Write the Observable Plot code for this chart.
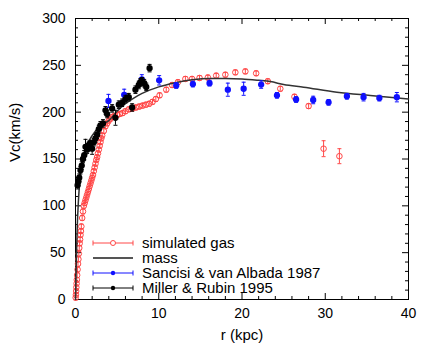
<!DOCTYPE html>
<html><head><meta charset="utf-8">
<script src="https://cdn.jsdelivr.net/npm/d3@7"></script>
<script src="https://cdn.jsdelivr.net/npm/@observablehq/plot@0.6"></script>
<style>body{margin:0;background:#fff} svg{font-family:"Liberation Sans",Arial,sans-serif}</style>
</head><body><div id="chart"></div>
<script>
// ---- data ----
const gasR = [0.02,0.05,0.08,0.1,0.13,0.16,0.2,0.25,0.3,0.35,
  0.4,0.45,0.5,0.55,0.6,0.65,0.7,0.8,0.9,1.0,
  1.1,1.2,1.3,1.4,1.5,1.6,1.7,1.8,1.9,2.0,
  2.1,2.2,2.3,2.4,2.5,2.6,2.7,2.8,2.9,3.0,
  3.1,3.2,3.4,3.6,3.8,4.0,4.2,4.45,4.7,5.0,
  5.3,5.65,6.0,6.4,6.85,7.25,7.65,8.05,8.45,8.85,
  9.25,9.65,10.1,10.9,11.6,12.3,13.2,14.0,14.9,15.9,
  16.9,18.0,19.2,20.4,21.7,23.1,24.6,26.3,28.0,29.8,
  31.7];
const gasV = [2,5,9,13,17,21,26,32,38,43,
  49,55,60,64,69,73,78,87,94,100,
  103,106,109,112,115,118,121,124,127,130,
  133,137,141,145,149,152,156,160,164,168,
  172,175,180,185,188,191,193,195,196,197,
  198,199,201,203,204,205,206,207,208,209,
  211,214,218,224,229,232,235.5,235.5,236.5,237,
  239,240,242.5,243.5,241.5,233,225,216.5,206.5,161,
  153];
const gasErr = [2.5,2.5,2.5,2.5,2.5,2.5,2.5,2.5,2.5,2.5,
  2.5,2.5,2.5,2.5,2.5,2.5,2.5,2.5,2.5,2.5,
  2.5,2.5,2.5,2.5,2.5,2.5,2.5,2.5,2.5,2.5,
  2.5,2.5,2.5,2.5,2.5,2.5,2.5,2.5,2.5,2.5,
  2.5,2.5,2.5,2.5,2.5,2.5,2.5,2.5,2.5,2.5,
  2.5,2.5,2.5,2.5,2.5,2.5,2.5,2.5,2.5,2.5,
  2.5,2.5,2.5,2.5,2.5,2.5,2.5,2.5,2.5,2.5,
  2.5,2.5,2.5,2.5,2.5,2.5,2.5,2.5,2.5,8.5,
  8];

const massR = [0,0.1,0.2,0.35,0.5,0.75,1,1.5,2,3,4,5,6,7,8,10,12,14,16,18,20,22,23.4,25,27.4,31.4,35.4,40];
const massV = [0,40,75,105,125,145,155,167,175,186,191,201,209,215,220,227,231.5,234.5,236,236,235.5,234,232.7,229.5,226.6,221.3,217.8,214];

const sancisiR = [3.96,5.85,7.97,10.05,12.1,14.1,16.1,18.3,20.2,22.3,24.2,26.5,28.55,30.4,32.6,34.6,36.5,38.6];
const sancisiV = [212,218.5,235,234,228.5,230,231,224,225,229.5,218,213.5,213,210.5,217,216,215,216];
const sancisiErr = [7,6,5,5,3,3,3,7,7,4,3,3,4,3,3,4,3,5];

const millerR = [0.25,0.35,0.45,0.6,0.75,0.9,1.05,1.2,1.4,1.6,
  1.8,2.0,2.2,2.4,2.6,2.8,3.0,3.3,3.6,3.8,
  4.4,4.8,5.2,5.6,6.0,6.4,6.8,7.2,7.6,7.8,
  8.0,8.25,8.5,8.9];
const millerV = [122,126,130,138,143,150,154,163,160,165,
  166,161,168,172,176,182,186,188,202,198,
  204,194,208,210,214,216,205,224,229,232,
  233,231,227,247];
const millerErr = [4,4,4,4,4,4,5,8,4,4,
  4,6,4,4,4,4,4,4,4,4,
  4,8,4,4,4,4,4,4,4,4,
  4,4,4,4];

const xMajor = [0,10,20,30,40];
const xMinor = [2,4,6,8,12,14,16,18,22,24,26,28,32,34,36,38];
const yMajor = [0,50,100,150,200,250,300];
const yMinor = [10,20,30,40,60,70,80,90,110,120,130,140,160,170,180,190,210,220,230,240,260,270,280,290];

const legendLabels = ["simulated gas","mass","Sancisi & van Albada 1987","Miller & Rubin 1995"];
const xLabel = "r (kpc)";
const yLabel = "Vc(km/s)";

// ---- build ----
const W = 436, H = 349, ML = 75, MR = 28, MT = 18, MB = 50;
const innerW = W - ML - MR, innerH = H - MT - MB;
const RED = "#ff4848", BLUE = "#1010ff", BLACK = "#000", MASS = "#333";

const table = (r, v, e) => r.map((d, i) => ({r: d, v: v[i], e: e ? e[i] : 0}));
const gas = table(gasR, gasV, gasErr);
const mass = table(massR, massV);
const sancisi = table(sancisiR, sancisiV, sancisiErr);
const miller = table(millerR, millerV, millerErr);

const capSymbol = {draw(ctx, size) { const w = Math.sqrt(size / Math.PI); ctx.moveTo(-w, 0); ctx.lineTo(w, 0); }};

function errMarks(data, color, capR) {
  return [
    Plot.ruleX(data, {x: "r", y1: d => d.v - d.e, y2: d => d.v + d.e, stroke: color, strokeWidth: 1}),
    Plot.dot(data, {x: "r", y: d => d.v - d.e, symbol: capSymbol, r: capR, stroke: color, fill: "none", strokeWidth: 1}),
    Plot.dot(data, {x: "r", y: d => d.v + d.e, symbol: capSymbol, r: capR, stroke: color, fill: "none", strokeWidth: 1})
  ];
}

const plot = Plot.plot({
  width: W, height: H,
  marginLeft: ML, marginRight: MR, marginTop: MT, marginBottom: MB,
  style: {fontFamily: '"Liberation Sans", Arial, sans-serif', fontSize: "14px", background: "#fff"},
  x: {domain: [0, 40]},
  y: {domain: [0, 300]},
  marks: [
    // ticks (inward, all four sides)
    Plot.tickX(xMajor, {x: d => d, insetTop: innerH - 6, stroke: BLACK}),
    Plot.tickX(xMajor, {x: d => d, insetBottom: innerH - 6, stroke: BLACK}),
    Plot.tickX(xMinor, {x: d => d, insetTop: innerH - 3, stroke: BLACK}),
    Plot.tickX(xMinor, {x: d => d, insetBottom: innerH - 3, stroke: BLACK}),
    Plot.tickY(yMajor, {y: d => d, insetRight: innerW - 6, stroke: BLACK}),
    Plot.tickY(yMajor, {y: d => d, insetLeft: innerW - 6, stroke: BLACK}),
    Plot.tickY(yMinor, {y: d => d, insetRight: innerW - 3, stroke: BLACK}),
    Plot.tickY(yMinor, {y: d => d, insetLeft: innerW - 3, stroke: BLACK}),
    Plot.axisX({ticks: xMajor, tickSize: 0, tickPadding: 9, label: null, fontSize: 14}),
    Plot.axisY({ticks: yMajor, tickSize: 0, tickPadding: 10, label: null, fontSize: 14}),
    Plot.frame({stroke: BLACK, strokeWidth: 1}),
    // simulated gas
    ...errMarks(gas, RED, 2),
    Plot.dot(gas, {x: "r", y: "v", r: 2.8, stroke: RED, fill: "none", strokeWidth: 1}),
    // mass
    Plot.line(mass, {x: "r", y: "v", stroke: MASS, strokeWidth: 1.5, curve: "monotone-x"}),
    // Sancisi
    ...errMarks(sancisi, BLUE, 2),
    Plot.dot(sancisi, {x: "r", y: "v", r: 2.4, fill: BLUE, stroke: BLUE}),
    // Miller
    ...errMarks(miller, BLACK, 2),
    Plot.dot(miller, {x: "r", y: "v", r: 2.4, fill: BLACK, stroke: BLACK}),
    // axis labels
    Plot.text([xLabel], {text: d => d, frameAnchor: "bottom", dy: 40, fontSize: 15, fill: BLACK}),
    Plot.text([yLabel], {text: d => d, frameAnchor: "left", dx: -60, dy: 3, rotate: -90, fontSize: 15, fill: BLACK})
  ]
});

// legend (inside the frame, bottom-left)
const svg = d3.select(plot);
const lg = svg.append("g").attr("font-size", 15).attr("text-anchor", "start")
  .attr("font-family", '"Liberation Sans", Arial, sans-serif');
const styles = [
  {color: RED, caps: true, marker: "open", width: 1},
  {color: "#555", caps: false, marker: null, width: 2},
  {color: BLUE, caps: true, marker: "filled", width: 1},
  {color: BLACK, caps: true, marker: "filled", width: 1}
];
const x0 = ML + 18, x1 = ML + 58, xm = ML + 38, xt = ML + 67;
legendLabels.forEach((label, i) => {
  const s = styles[i];
  const y = H - MB - 56 + i * 15;
  lg.append("line").attr("x1", x0).attr("x2", x1).attr("y1", y).attr("y2", y).attr("stroke", s.color).attr("stroke-width", s.width);
  if (s.caps) {
    [x0, x1].forEach(xx => lg.append("line").attr("x1", xx).attr("x2", xx).attr("y1", y - 2.5).attr("y2", y + 2.5).attr("stroke", s.color));
  }
  if (s.marker === "open") lg.append("circle").attr("cx", xm).attr("cy", y).attr("r", 2.5).attr("fill", "#fff").attr("stroke", s.color);
  if (s.marker === "filled") lg.append("circle").attr("cx", xm).attr("cy", y).attr("r", 2.2).attr("fill", s.color);
  lg.append("text").attr("x", xt).attr("y", y).attr("dy", "0.35em").attr("text-anchor", "start").attr("fill", BLACK).text(label);
});

document.getElementById("chart").appendChild(plot);
</script>
</body></html>
